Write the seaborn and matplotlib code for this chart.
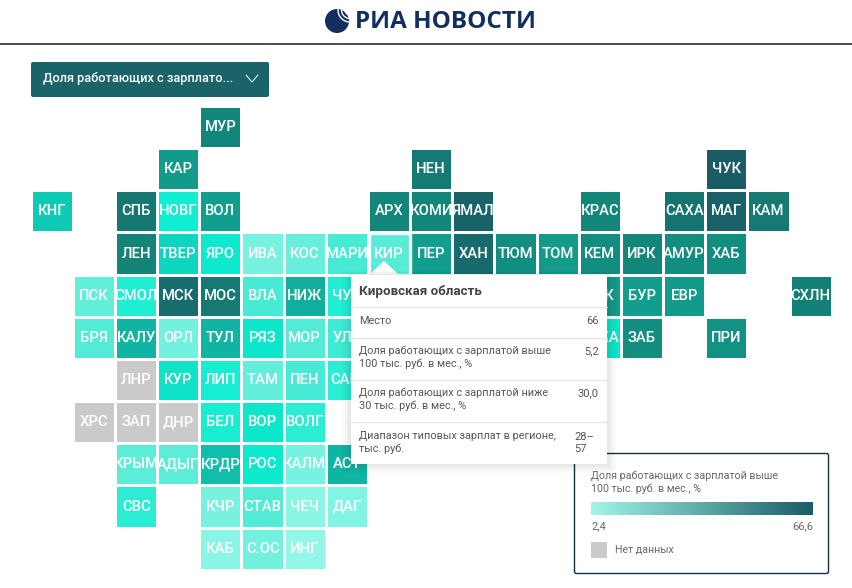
# tile map of russian regions, share of workers paid above 100k rub
import numpy as np
import matplotlib
matplotlib.use("Agg")
import matplotlib.pyplot as plt
import seaborn as sns
from matplotlib.cm import ScalarMappable
from matplotlib.colors import LinearSegmentedColormap, ListedColormap, Normalize
from matplotlib.patches import Arc, Circle, FancyBboxPatch, Polygon, Rectangle

# region codes, one list per map row, "" is an empty tile
codes_rows = [
    ["", "", "", "", "МУР", "", "", "", "", "", "", "", "", "", "", "", "", "", ""],
    ["", "", "", "КАР", "", "", "", "", "", "НЕН", "", "", "", "", "", "", "ЧУК", "", ""],
    ["КНГ", "", "СПБ", "НОВГ", "ВОЛ", "", "", "", "АРХ", "КОМИ", "ЯМАЛ", "", "", "КРАС", "", "САХА", "МАГ", "КАМ", ""],
    ["", "", "ЛЕН", "ТВЕР", "ЯРО", "ИВА", "КОС", "МАРИ", "КИР", "ПЕР", "ХАН", "ТЮМ", "ТОМ", "КЕМ", "ИРК", "АМУР", "ХАБ", "", ""],
    ["", "ПСК", "СМОЛ", "МСК", "МОС", "ВЛА", "НИЖ", "ЧУВ", "", "", "", "", "", "НСК", "БУР", "ЕВР", "", "", "СХЛН"],
    ["", "БРЯ", "КАЛУ", "ОРЛ", "ТУЛ", "РЯЗ", "МОР", "УЛЬ", "", "", "", "", "", "ХАКА", "ЗАБ", "", "ПРИ", "", ""],
    ["", "", "ЛНР", "КУР", "ЛИП", "ТАМ", "ПЕН", "САМ", "", "", "", "", "", "", "", "", "", "", ""],
    ["", "ХРС", "ЗАП", "ДНР", "БЕЛ", "ВОР", "ВОЛГ", "", "", "", "", "", "", "", "", "", "", "", ""],
    ["", "", "КРЫМ", "АДЫГ", "КРДР", "РОС", "КАЛМ", "АСТ", "", "", "", "", "", "", "", "", "", "", ""],
    ["", "", "СВС", "", "КЧР", "СТАВ", "ЧЕЧ", "ДАГ", "", "", "", "", "", "", "", "", "", "", ""],
    ["", "", "", "", "КАБ", "С.ОС", "ИНГ", "", "", "", "", "", "", "", "", "", "", "", ""],
]

# share of workers above 100k rub, %, same shape, None = no tile or no data
N = None
share_rows = [
    [N, N, N, N, 30, N, N, N, N, N, N, N, N, N, N, N, N, N, N],
    [N, N, N, 25, N, N, N, N, N, 38, N, N, N, N, N, N, 66.6, N, N],
    [15, N, 40, 9, 24, N, N, N, 30, 30, 60, N, N, 30, N, 42, 62, 38, N],
    [N, N, 32, 13, 10, 3.8, 4.5, 6, 5.2, 24, 50, 28, 25, 28, 30, 28, 28, N, N],
    [N, 4.8, 8, 48, 38, 6, 20, 8, N, N, N, N, N, 25, 24, 25, N, N, 34],
    [N, 5.5, 19, 4, 19, 10.5, 5.5, 6.5, N, N, N, N, N, 11, 28, N, 27, N, N],
    [N, N, N, 11, 8.5, 4.8, 6, 7.5, N, N, N, N, N, N, N, N, N, N, N],
    [N, N, N, N, 8.5, 10.5, 7.5, N, N, N, N, N, N, N, N, N, N, N, N],
    [N, N, 5, 5, 17, 10, 3.7, 19, N, N, N, N, N, N, N, N, N, N, N],
    [N, N, 7.5, N, 3.8, 5.5, 3, 3.3, N, N, N, N, N, N, N, N, N, N, N],
    [N, N, N, N, 3, 4, 2.4, N, N, N, N, N, N, N, N, N, N, N, N],
]

scale_min = 2.4
scale_max = 66.6

# tooltip content
tip_title = "Кировская область"
tip_rows = [
    ("Место", "66"),
    ("Доля работающих с зарплатой выше\n100 тыс. руб. в мес., %", "5,2"),
    ("Доля работающих с зарплатой ниже\n30 тыс. руб. в мес., %", "30,0"),
    ("Диапазон типовых зарплат в регионе,\nтыс. руб.", "28–\n57"),
]
legend_title = "Доля работающих с зарплатой выше\n100 тыс. руб. в мес., %"

sns.set_theme(style="white")
plt.rcParams["font.family"] = ["Roboto", "DejaVu Sans"]

W, H = 853, 588
fig = plt.figure(figsize=(W / 100, H / 100), dpi=100, facecolor="white")

# colours of the tiles go pale -> bright turquoise -> teal -> dark
stops = [(2.4, "#93F7E8"), (5.5, "#4FEBD6"), (9, "#0CEFD0"), (14, "#0CD0BA"),
         (20, "#11AE9D"), (30, "#128779"), (45, "#176F6E"), (66.6, "#1A5C66")]
tile_cmap = LinearSegmentedColormap.from_list(
    "tiles", [((v - scale_min) / (scale_max - scale_min), c) for v, c in stops])
legend_cmap = LinearSegmentedColormap.from_list("legend", ["#A0F5E8", "#1A5C66"])

codes = np.array(codes_rows)
share = np.array(share_rows, dtype=float)
no_data = np.where((codes != "") & np.isnan(share), 1.0, np.nan)

ax = fig.add_axes([30.7 / W, 1 - 569.8 / H, 801 / W, 463.8 / H])
label_kws = {"color": "white", "fontsize": 10.6, "fontweight": "medium"}
sns.heatmap(share, ax=ax, cmap=tile_cmap, vmin=scale_min, vmax=scale_max, cbar=False,
            annot=codes, fmt="", annot_kws=label_kws, linewidths=1.0, linecolor="white",
            xticklabels=False, yticklabels=False)
sns.heatmap(no_data, ax=ax, cmap=ListedColormap(["#CACACA"]), cbar=False,
            annot=codes, fmt="", annot_kws=label_kws, linewidths=1.0, linecolor="white",
            xticklabels=False, yticklabels=False)

# everything around the map is placed in pixels on a top layer
top = fig.add_axes([0, 0, 1, 1], zorder=5)
top.set_xlim(0, W)
top.set_ylim(H, 0)
top.axis("off")
top.patch.set_alpha(0)

# header
top.plot([0, W], [43.5, 43.5], color="#1b1b1b", lw=1.1)
NAVY = "#12305F"
top.add_patch(Circle((337, 21), 12, color=NAVY, lw=0))
for r in [5, 8.5, 12]:
    top.add_patch(Arc((350, 10), 2 * r, 2 * r, theta1=60, theta2=230, color="white", lw=1.0))
top.text(355, 21.5, "РИА НОВОСТИ", color=NAVY, fontsize=17.5, fontweight="bold",
         family=["Open Sans", "DejaVu Sans"], va="center", ha="left")

# dropdown
top.add_patch(FancyBboxPatch((31, 62), 238, 35, boxstyle="round,pad=0,rounding_size=2",
                             fc="#1A6368", ec="none"))
top.text(43, 78.5, "Доля работающих с зарплато...", color="white", fontsize=9.2,
         fontweight="medium", va="center")
top.plot([246, 252, 258], [75, 82, 75], color="white", lw=0.7)

# legend box, the tooltip sits on top of its corner
top.add_patch(FancyBboxPatch((574.5, 453.5), 254, 120, boxstyle="round,pad=0,rounding_size=2",
                             fc="white", ec="#10303F", lw=1))
top.text(591, 482, legend_title, color="#666666", fontsize=7.7, va="center", linespacing=1.25)
top.text(591, 526.5, "2,4", color="#666666", fontsize=8, va="center")
top.text(813, 526.5, "66,6", color="#666666", fontsize=8, va="center", ha="right")
top.add_patch(Rectangle((591, 542), 16, 16, fc="#CACACA", lw=0))
top.text(615, 549.5, "Нет данных", color="#666666", fontsize=7.7, va="center")

cax = fig.add_axes([591 / W, 1 - 515 / H, 222 / W, 13 / H], zorder=6)
cbar = fig.colorbar(ScalarMappable(Normalize(scale_min, scale_max), legend_cmap),
                    cax=cax, orientation="horizontal")
cbar.set_ticks([])
cbar.outline.set_visible(False)

# hovered tile
top.add_patch(Rectangle((369, 233), 41, 41.5, fc="none", ec="white", lw=2.4))
top.add_patch(Polygon([(369, 275), (384, 261), (399, 275)], fc="white", ec="none"))

# tooltip with a soft shadow
for grow, alpha in [(9, 0.02), (6, 0.03), (3, 0.04)]:
    top.add_patch(Rectangle((351 - grow, 275 - grow / 2), 256 + 2 * grow, 189 + 1.5 * grow,
                            fc="black", alpha=alpha, lw=0))
top.add_patch(Rectangle((351, 275), 256, 189, fc="white", lw=0))
top.text(359, 291.5, tip_title, color="#444444", fontsize=9.6, fontweight="bold", va="center")
for y in [307, 337.5, 379.5, 422]:
    top.plot([351, 607], [y, y], color="#E4E4E4", lw=0.9)
TIP_GREY = "#555555"
row_y = [321, 357.5, 399.5, 442.5]
for (name, value), y in zip(tip_rows, row_y):
    top.text(359, y, name, color=TIP_GREY, fontsize=7.8, va="center", linespacing=1.25)
for (name, value), y in zip(tip_rows[:3], row_y):
    vy = y if "\n" not in name else y - 6.5
    top.text(599, vy, value, color=TIP_GREY, fontsize=8, va="center", ha="right")
top.text(574, row_y[3], tip_rows[3][1], color=TIP_GREY, fontsize=8, va="center", linespacing=1.25)

fig.savefig("out.png", dpi=100)
